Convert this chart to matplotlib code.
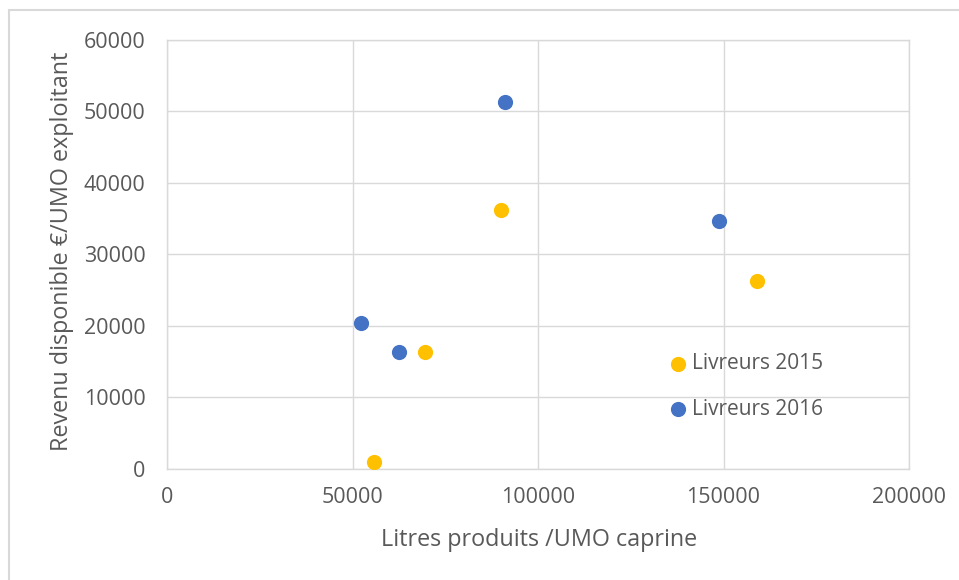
import matplotlib
matplotlib.use("Agg")
import matplotlib.pyplot as plt
from matplotlib.patches import Rectangle

# Data
x_2015 = [55900, 69600, 90100, 158900]
y_2015 = [900, 16300, 36200, 26300]
x_2016 = [52300, 62600, 91100, 148900]
y_2016 = [20400, 16300, 51300, 34600]
series_labels = ["Livreurs 2015", "Livreurs 2016"]
x_ticks = [0, 50000, 100000, 150000, 200000]
y_ticks = [0, 10000, 20000, 30000, 40000, 50000, 60000]
x_label = "Litres produits /UMO caprine"
y_label = "Revenu disponible €/UMO exploitant"

plt.rcParams['font.family'] = ['Open Sans', 'DejaVu Sans']
W, H = 959, 580
fig = plt.figure(figsize=(W / 100, H / 100), dpi=100)
ax = fig.add_axes([167 / W, 1 - 468.7 / H, (909 - 167) / W, (468.7 - 40) / H])

text_c = "#595959"
grid_c = "#D9D9D9"

ax.scatter(x_2015, y_2015, s=120, color="#FFC000", label=series_labels[0], zorder=3, linewidths=0)
ax.scatter(x_2016, y_2016, s=120, color="#4472C4", label=series_labels[1], zorder=3, linewidths=0)

ax.set_xlim(0, 200000)
ax.set_ylim(0, 60000)
ax.set_xticks(x_ticks)
ax.set_yticks(y_ticks)
ax.set_xticklabels([str(v) for v in x_ticks])
ax.set_yticklabels([str(v) for v in y_ticks])
ax.grid(True, color=grid_c, linewidth=1.0)
ax.set_axisbelow(True)
for s in ax.spines.values():
    s.set_color(grid_c)
    s.set_linewidth(1.0)
ax.tick_params(length=0, labelsize=15.5, colors=text_c)
ax.tick_params(axis='y', pad=15.5)
ax.tick_params(axis='x', pad=13)

ax.set_xlabel(x_label, fontsize=16.8, color=text_c)
ax.set_ylabel(y_label, fontsize=16.8, color=text_c)
ax.xaxis.set_label_coords(0.501, -0.166)
ax.yaxis.set_label_coords(-0.1415, 0.507)
ax.xaxis.label.set_va('center')
ax.yaxis.label.set_va('center')

leg = ax.legend(loc='upper left', bbox_to_anchor=(668 / W, 1 - 353 / H),
                bbox_transform=fig.transFigure, frameon=False, fontsize=15,
                handletextpad=0.15, labelspacing=1.18, handlelength=1.0,
                borderaxespad=0, borderpad=0)
for t in leg.get_texts():
    t.set_color(text_c)

fig.patches.append(Rectangle((9 / W, -0.1), 1.2, 1 - 10 / H + 0.1, transform=fig.transFigure,
                             fill=False, edgecolor=grid_c, linewidth=1.5))

fig.savefig("out.png", dpi=100)
